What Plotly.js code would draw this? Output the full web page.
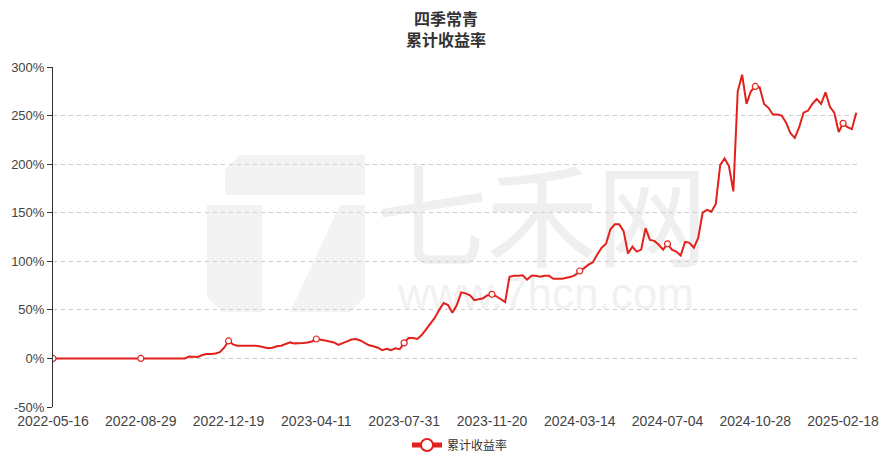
<!DOCTYPE html>
<html>
<head>
<meta charset="utf-8">
<script src="https://cdn.plot.ly/plotly-3.0.1.min.js"></script>
<style>
html,body{margin:0;padding:0;background:#fff;}
#wrap{position:relative;width:892px;height:459px;}
#wm{position:absolute;left:0;top:0;width:892px;height:459px;z-index:0;pointer-events:none;}
#wm .big{position:absolute;left:376px;top:140px;font-family:"Noto Sans CJK SC",sans-serif;font-size:112px;line-height:140px;color:#efefef;white-space:nowrap;letter-spacing:-2px;}
#wm .url{position:absolute;left:398px;top:270px;font-family:"Liberation Sans",sans-serif;font-size:44px;line-height:48px;color:#f1f1f1;white-space:nowrap;}
#chart{position:absolute;left:0;top:0;width:892px;height:459px;z-index:1;}
</style>
</head>
<body>
<div id="wrap">
<div id="wm"><div class="big">七禾网</div><div class="url">www.7hcn.com</div></div>
<div id="chart"></div>
</div>
<script>
// ---- data ----
const chartTitle = '<b>四季常青</b><br><b>累计收益率</b>';
const seriesName = '累计收益率';
const xTickLabels = ['2022-05-16','2022-08-29','2022-12-19','2023-04-11','2023-07-31',
                     '2023-11-20','2024-03-14','2024-07-04','2024-10-28','2025-02-18'];
const yTickValues = [-50, 0, 50, 100, 150, 200, 250, 300];
const yTickLabels = ['-50%','0%','50%','100%','150%','200%','250%','300%'];
// cumulative return (%) sampled at regular steps, 20 steps between labelled dates
const cumReturn = [
  0,0,0,0,0,0,0,0,0,0,
  0,0,0,0,0,0,0,0,0,0,
  0,0,0,0,0,0,0,0,0,0,
  0,2,1.5,1.5,3.5,4.5,4.5,5,6.5,11,
  18,14.5,13,13,13.5,13.5,13,12.5,11.5,10.5,
  11,12.5,13,15,16.5,15.5,15.5,16,16.5,17.5,
  20,19.5,18.5,17.5,16.5,14,15.5,17.5,19.5,20,
  18.5,16,13.5,12.5,11,8.5,10,8.5,10.5,9.5,
  16,21,21,20,24,30,36,42,50,57,
  55,47,55,68,67,65,60,61,62,65,
  66,64,61,58,84,85,85,85.5,81,85,
  85,84,85,85,82,82,82,83,84,86,
  90,93,96.5,99,107,114,118,133,138,138,
  131,108,115,110,112,134,122,121,117,112,
  118,112,110,106,120,119,114,124,150,153,
  151,159,199,206,198,172,275,292,262,275,
  280,279,262,258,251,251,250,243,232,227,
  238,253,255,262,267,262,274,259,253,233,
  242,238,236,253
];

// ---- chart ----
const xIdx = cumReturn.map((_, i) => i);
const step = 20;
const tickIdx = xTickLabels.map((_, k) => k * step);
const markerSizes = cumReturn.map((_, i) => (i % step === 0 ? 6 : 0));
const red = '#e3211c';

const trace = {
  type: 'scatter',
  mode: 'lines+markers',
  name: seriesName,
  x: xIdx,
  y: cumReturn,
  line: {color: red, width: 2},
  marker: {size: markerSizes, color: '#ffffff', opacity: 1, line: {color: red, width: 1.2}, symbol: 'circle'},
  hoverinfo: 'skip'
};

const P = (x) => (x - 53) / 805;
const Q = (y) => (407 - y) / 340;
const wm = '#f3f3f3';

const layout = {
  width: 892, height: 459,
  margin: {l: 53, r: 34, t: 67, b: 52, pad: 0, autoexpand: false},
  paper_bgcolor: 'rgba(0,0,0,0)',
  plot_bgcolor: 'rgba(0,0,0,0)',
  font: {family: '"Noto Sans CJK SC", "Liberation Sans", sans-serif', color: '#444', size: 12},
  showlegend: true,
  legend: {
    orientation: 'h', x: P(460), xanchor: 'center', y: Q(445), yanchor: 'middle',
    font: {size: 12, color: '#333'}, itemsizing: 'constant', itemwidth: 30, bgcolor: 'rgba(0,0,0,0)'
  },
  xaxis: {
    range: [0, 183.4], tickmode: 'array', tickvals: tickIdx, ticktext: xTickLabels,
    showgrid: false, zeroline: false, showline: false, ticks: '',
    tickfont: {size: 14, color: '#444', family: '"Liberation Sans", sans-serif'},
    ticklabelstandoff: 4,
    fixedrange: true
  },
  xaxis2: {
    overlaying: 'x', anchor: 'free', position: 50 / 350, range: [0, 183.4],
    tickmode: 'array', tickvals: tickIdx, showticklabels: false,
    showline: true, linecolor: '#333', linewidth: 1, ticks: 'outside', ticklen: 5, tickcolor: '#333',
    showgrid: false, zeroline: false, fixedrange: true
  },
  yaxis: {
    range: [-50, 300], tickmode: 'array', tickvals: yTickValues, ticktext: yTickLabels,
    showline: true, linecolor: '#333', linewidth: 1, ticks: 'outside', ticklen: 5, tickcolor: '#333',
    showgrid: true, gridcolor: '#cccccc', griddash: '4px,4px', gridwidth: 1, zeroline: false,
    tickfont: {size: 13, color: '#444', family: '"Liberation Sans", sans-serif'},
    fixedrange: true
  },
  annotations: [
    {text: chartTitle, xref: 'paper', yref: 'paper', x: P(446), y: Q(29), xanchor: 'center', yanchor: 'middle',
     showarrow: false, align: 'center',
     font: {size: 16, color: '#333', family: '"Noto Sans CJK SC", sans-serif'}}
  ],
  shapes: [
    {type: 'path', xref: 'paper', yref: 'paper', layer: 'below', fillcolor: wm, line: {width: 0},
     path: `M ${P(240)} ${Q(155)} L ${P(365)} ${Q(155)} L ${P(365)} ${Q(195)} L ${P(225)} ${Q(195)} L ${P(225)} ${Q(170)} Z`},
    {type: 'path', xref: 'paper', yref: 'paper', layer: 'below', fillcolor: wm, line: {width: 0},
     path: `M ${P(207)} ${Q(205)} L ${P(262)} ${Q(205)} L ${P(262)} ${Q(312)} L ${P(222)} ${Q(312)} L ${P(207)} ${Q(297)} Z`},
    {type: 'path', xref: 'paper', yref: 'paper', layer: 'below', fillcolor: wm, line: {width: 0},
     path: `M ${P(340)} ${Q(205)} L ${P(365)} ${Q(205)} L ${P(365)} ${Q(297)} L ${P(350)} ${Q(312)} L ${P(290)} ${Q(312)} Z`}
  ]
};

Plotly.newPlot('chart', [trace], layout, {displayModeBar: false, staticPlot: true});
</script>
</body>
</html>
